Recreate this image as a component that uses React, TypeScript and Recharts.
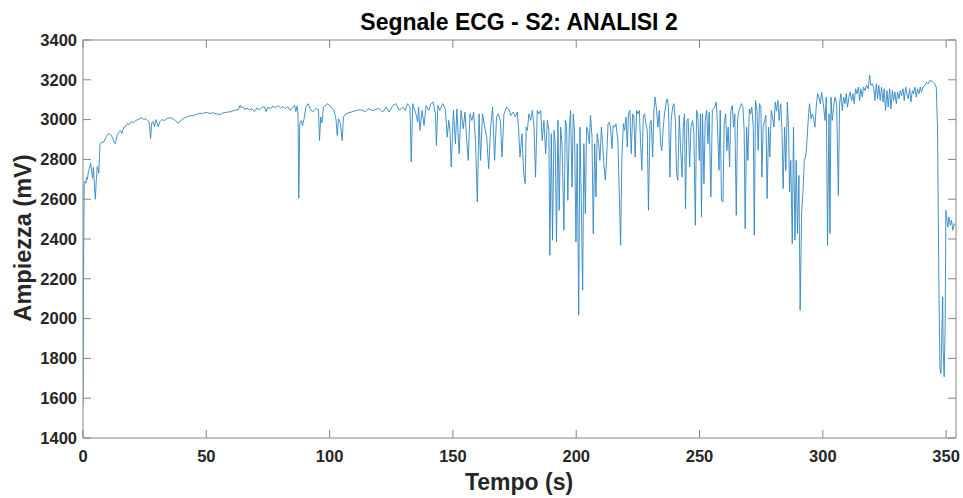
import { LineChart, Line, XAxis, YAxis } from "recharts";

const W = 963;
const H = 498;
const FONT = "'Liberation Sans', Arial, sans-serif";

const tickTempo = [0, 50, 100, 150, 200, 250, 300, 350];
const tickAmpiezza = [1400, 1600, 1800, 2000, 2200, 2400, 2600, 2800, 3000, 3200, 3400];

// [tempo (s), ampiezza (mV)]
const avvio: [number, number][] = [
  [0.0, 1560], [0.3, 2400], [0.5, 2680], [0.9, 2690], [1.2, 2680], [1.5, 2710], [1.8, 2700],
  [2.2, 2740], [2.6, 2755], [3.1, 2780], [3.5, 2740], [3.9, 2705], [4.2, 2760], [4.5, 2700],
  [5.0, 2600], [5.4, 2700], [5.8, 2765], [6.4, 2730], [6.9, 2880],
];

const stabile: [number, number][] = [
  [7.5, 2885], [8.5, 2890], [9.5, 2915], [10.3, 2930], [11.2, 2925], [12.0, 2910], [12.6, 2885],
  [13.2, 2880], [13.8, 2920], [14.5, 2935], [15.2, 2945], [15.8, 2930], [16.5, 2960], [17.3, 2965],
  [18.0, 2980], [18.8, 2975], [19.6, 2990], [20.5, 2985], [21.3, 2995], [22.2, 3000], [23.0, 3005],
  [23.8, 3010], [24.6, 3000], [25.4, 3005], [26.2, 2995], [26.8, 2990], [27.4, 2905], [27.9, 2985],
  [28.4, 2990], [29.0, 2965], [29.5, 3000], [30.0, 2985], [30.5, 2965], [31.2, 2990], [32.0, 3000],
  [33.0, 2995], [34.0, 3005], [35.3, 3010], [36.2, 3005], [37.0, 3000], [37.8, 2990], [38.7, 2982],
  [39.5, 2995], [40.3, 3000], [41.3, 3010], [42.5, 3015], [43.5, 3020], [44.5, 3018], [45.5, 3025],
  [46.5, 3028], [47.4, 3032], [48.5, 3030], [49.5, 3035], [50.5, 3035], [51.5, 3030], [52.5, 3035],
  [53.5, 3030], [54.5, 3028], [55.6, 3025], [56.5, 3032], [57.5, 3035], [58.8, 3038], [60.0, 3040],
  [61.0, 3045], [62.0, 3048], [63.0, 3050], [63.7, 3072], [64.2, 3060], [64.8, 3065], [65.6, 3050],
  [66.5, 3058], [67.5, 3048], [68.5, 3055], [69.5, 3040], [70.5, 3058], [71.5, 3048], [72.5, 3062],
  [73.6, 3065], [74.2, 3040], [75.0, 3063], [76.0, 3055], [77.0, 3068], [78.0, 3060], [79.2, 3070],
  [80.2, 3058], [81.0, 3066], [82.0, 3055], [83.0, 3064], [84.0, 3045], [85.0, 3062], [85.8, 3072],
  [86.3, 3040], [86.8, 3068], [87.2, 3030], [87.5, 2605], [87.9, 2980], [88.5, 2995], [89.0, 2970],
  [89.6, 3000], [90.4, 3063], [91.3, 3080], [92.2, 3050], [93.2, 3040], [94.5, 3055], [95.5, 3050],
  [95.9, 2895], [96.4, 3013], [96.9, 2985], [97.5, 3063], [99.3, 3080], [100.5, 3063], [101.8, 3046],
  [102.6, 3000], [103.1, 2920], [103.6, 3004], [104.3, 2987], [105.1, 2895], [105.6, 3013],
  [106.7, 3030], [108.8, 3038], [110.5, 3045], [112.5, 3050], [114.5, 3040], [115.6, 3055],
  [117.5, 3045], [119.6, 3055],
];

const primiBattiti: [number, number][] = [
  [120.2, 3054], [121.5, 3038], [122.9, 3063], [124.2, 3038], [125.6, 3071], [126.9, 3080],
  [128.3, 3046], [129.6, 3063], [130.7, 3046], [131.6, 3080], [132.6, 3063], [133.1, 2787],
  [133.7, 3080], [134.3, 3054], [135.0, 3029], [135.7, 2987], [136.1, 3063], [136.6, 2946],
  [137.5, 3046], [138.3, 2971], [139.1, 3071], [140.2, 3046], [141.1, 3080], [142.0, 3088],
  [142.9, 3029], [143.3, 2870], [143.9, 3071], [144.7, 3046], [145.8, 3080], [146.9, 3054],
  [147.7, 2912], [148.3, 2996], [148.8, 2946], [149.3, 2762], [150.2, 3046], [151.0, 2879],
  [151.6, 3054], [152.5, 2829], [153.3, 3046], [154.2, 2954], [154.9, 3038], [155.6, 2895],
  [156.2, 2795], [156.9, 3029], [157.7, 2996], [158.4, 3038], [159.2, 2879], [159.9, 2586],
  [160.6, 3029], [161.2, 2795], [162.0, 3029], [162.9, 2962], [163.7, 2912], [164.5, 2753],
  [165.3, 2962], [166.1, 3063], [166.9, 2795], [167.7, 3013], [168.5, 3029], [169.3, 2987],
  [169.9, 2812], [170.7, 3029], [171.8, 3063], [172.9, 3046], [173.5, 3021], [174.5, 3038],
  [175.3, 3013], [176.1, 3038], [176.6, 2962], [177.2, 2812], [178.0, 2929], [178.7, 2728],
  [179.3, 2678],
];

const aritmiaCentrale: [number, number][] = [
  [179.7, 2962], [180.2, 2946], [180.8, 3029], [181.5, 2996], [182.2, 3046], [182.9, 2962],
  [183.5, 2711], [184.2, 3046], [184.9, 3029], [185.6, 3046], [186.2, 2895], [186.9, 2996],
  [187.6, 2829], [188.3, 2996], [188.9, 2946], [189.3, 2318], [189.9, 2929], [190.4, 2394],
  [191.0, 2946], [191.5, 2879], [192.0, 2385], [192.6, 2996], [193.1, 2544], [193.7, 2962],
  [194.3, 2862], [195.0, 2444], [195.6, 2996], [196.1, 2962], [196.6, 2594], [197.2, 2962],
  [197.7, 3046], [198.3, 2661], [198.8, 3029], [199.3, 2946], [199.9, 2385], [200.4, 2879],
  [201.0, 2017], [201.5, 2962], [202.0, 2628], [202.6, 2143], [203.1, 2879], [203.7, 2527],
  [204.2, 2962], [204.7, 2946], [205.3, 2879], [205.8, 3021], [206.4, 2912], [206.9, 2427],
  [207.5, 2879], [208.0, 2611], [208.5, 2929], [209.1, 2879], [209.6, 2795], [210.2, 2962],
  [210.7, 2879], [211.2, 2778], [211.8, 2695], [212.3, 2795], [212.9, 2979], [213.4, 2987],
  [213.9, 2962], [214.5, 2854], [215.0, 2971], [215.6, 2962], [216.1, 2979], [216.9, 2895],
  [217.4, 2661], [218.0, 2369], [218.5, 2795], [219.1, 2979], [219.6, 2946], [220.2, 3013],
  [220.7, 2862], [221.2, 3029], [221.8, 3046], [222.3, 2829], [222.9, 3029], [223.4, 3013],
  [223.9, 2812], [224.5, 3046], [225.0, 3029], [225.6, 3046], [226.1, 2879], [226.6, 2745],
  [227.2, 3013], [227.7, 3029], [228.3, 2979], [228.8, 2946], [229.3, 2544], [229.9, 2979],
  [230.4, 2996], [231.0, 2812], [231.5, 3046], [232.0, 3113], [232.6, 3046], [233.1, 2962],
  [233.7, 3046], [234.2, 2879], [234.7, 2845], [235.3, 2962], [235.8, 3029], [236.4, 3080],
  [236.9, 3105], [237.4, 3063], [238.0, 2711], [238.5, 2996], [239.1, 3063],
];

const aritmiaFinale: [number, number][] = [
  [239.6, 3080], [240.2, 2996], [240.7, 2728], [241.2, 2695], [241.8, 3021], [242.3, 2862],
  [242.9, 2711], [243.4, 2962], [243.9, 3029], [244.3, 2553], [244.9, 2996], [245.4, 3004],
  [246.0, 2762], [246.5, 2962], [247.2, 2996], [247.7, 2929], [248.3, 2469], [248.8, 3046],
  [249.3, 3029], [249.9, 2795], [250.4, 3029], [250.8, 2511], [251.2, 3029], [251.8, 2678],
  [252.3, 2996], [252.9, 3046], [253.4, 2879], [253.9, 3038], [254.6, 2611], [255.2, 3046],
  [255.7, 3054], [256.2, 3063], [256.8, 3088], [257.3, 2962], [257.9, 2745], [258.4, 3046],
  [258.9, 2594], [259.5, 2586], [260.0, 2979], [260.6, 3029], [261.1, 2845], [261.6, 2962],
  [262.2, 2762], [262.7, 3046], [263.3, 3071], [263.8, 2962], [264.3, 3029], [264.9, 2519],
  [265.4, 2996], [266.0, 3046], [266.5, 3063], [267.0, 3080], [267.6, 3063], [268.1, 2946],
  [268.5, 2452], [269.1, 2962], [269.6, 2795], [270.2, 3054], [270.7, 3029], [271.2, 3063],
  [271.8, 2962], [272.2, 2419], [272.7, 3096], [273.3, 3046], [273.8, 2845], [274.3, 3080],
  [274.9, 3063], [275.3, 2711], [275.8, 2962], [276.4, 2996], [276.9, 3021], [277.4, 2603],
  [278.0, 2962], [278.5, 2812], [279.1, 3046], [279.6, 3013], [280.2, 2962], [280.7, 3088],
  [281.2, 3046], [281.8, 3096], [282.3, 2996], [282.9, 3080], [283.4, 2962], [283.9, 2653],
  [284.5, 2962], [285.0, 2745], [285.6, 3088], [286.1, 2962], [286.5, 2636], [287.0, 2795],
  [287.6, 2377], [288.1, 2962], [288.7, 2394], [289.2, 2795], [289.7, 2427], [290.3, 2720],
  [290.8, 2042], [291.4, 2527], [291.9, 2628], [292.5, 2795], [293.0, 2812], [293.5, 2879],
  [294.1, 3004], [294.6, 3080], [295.2, 3004], [295.7, 3029], [296.2, 3013], [296.8, 2962],
  [297.3, 3063], [297.9, 3130], [298.4, 3113], [299.0, 3080],
];

const recupero: [number, number][] = [
  [299.5, 3138], [300.2, 3080], [300.9, 2996], [301.4, 3113], [301.9, 2368], [302.5, 3029],
  [302.9, 2427], [303.3, 3113], [303.8, 2996], [304.4, 3063], [304.9, 3113], [305.6, 3080],
  [306.3, 2619], [306.8, 3080], [307.3, 3130], [307.9, 3046], [308.4, 3113], [309.0, 3080],
  [309.5, 3130], [310.0, 3063], [310.6, 3113], [311.1, 3138], [311.7, 3096], [312.2, 3130],
  [312.7, 3080], [313.3, 3155], [313.8, 3130], [314.4, 3163], [314.9, 3096], [315.4, 3155],
  [316.0, 3113], [316.5, 3163], [317.1, 3146], [317.7, 3172], [318.4, 3155], [319.0, 3222],
  [319.5, 3172], [320.0, 3180], [320.6, 3163], [321.1, 3096], [321.7, 3180], [322.2, 3105],
  [322.7, 3172], [323.3, 3096], [323.8, 3163], [324.4, 3088], [324.9, 3155], [325.4, 3046],
  [326.0, 3146], [326.5, 3063], [327.1, 3155], [327.6, 3054], [328.2, 3146], [328.7, 3096],
  [329.2, 3138], [329.8, 3080], [330.3, 3138], [330.9, 3105], [331.4, 3146], [331.9, 3121],
  [332.5, 3155], [333.0, 3096], [333.6, 3163], [334.1, 3130], [334.6, 3105], [335.2, 3155],
  [335.7, 3088], [336.3, 3146], [336.8, 3130], [337.3, 3163], [337.9, 3113], [338.4, 3155],
  [339.0, 3130], [339.5, 3163], [340.0, 3138], [340.6, 3163], [341.4, 3172], [342.1, 3188],
  [342.7, 3180], [343.4, 3197], [344.1, 3193], [344.8, 3188], [345.4, 3180], [346.0, 3163],
];

const crollo: [number, number][] = [
  [346.5, 2962], [347.1, 2126], [347.5, 1750], [347.9, 1724], [348.3, 1959], [348.6, 2109],
  [348.8, 1841], [349.2, 1708], [349.6, 1959], [349.9, 2544], [350.3, 2494], [350.7, 2460],
  [351.1, 2511], [351.7, 2469], [352.2, 2494], [352.7, 2444], [353.3, 2477], [353.8, 2469],
];

const data = [...avvio, ...stabile, ...primiBattiti, ...aritmiaCentrale, ...aritmiaFinale, ...recupero, ...crollo].map(
  ([t, v]) => ({ t, v })
);

const tickStyle = { fill: "#262626", fontSize: 16.5, fontWeight: 700, fontFamily: FONT };
const axisColor = "#858585";
const noLabel = () => "";

export default function App() {
  return (
    <div style={{ position: "fixed", left: 0, top: 0, width: W, height: H, background: "#fff" }}>
      <LineChart width={W} height={H} data={data} margin={{ top: 40, right: 7, bottom: 30, left: 0 }}>
        {/* label axes */}
        <XAxis
          type="number"
          dataKey="t"
          domain={[0, 354]}
          ticks={tickTempo}
          allowDataOverflow
          height={30}
          tickLine={false}
          tickSize={0}
          tickMargin={12}
          axisLine={false}
          tick={tickStyle}
        />
        <YAxis
          type="number"
          domain={[1400, 3400]}
          ticks={tickAmpiezza}
          allowDataOverflow
          width={83}
          tickLine={false}
          tickSize={0}
          tickMargin={6}
          axisLine={false}
          tick={tickStyle}
        />
        {/* box with inward ticks */}
        <XAxis
          xAxisId="basso"
          orientation="bottom"
          mirror
          type="number"
          dataKey="t"
          domain={[0, 354]}
          ticks={tickTempo}
          allowDataOverflow
          height={10}
          tickSize={8}
          stroke={axisColor}
          tickFormatter={noLabel}
        />
        <XAxis
          xAxisId="alto"
          orientation="top"
          mirror
          type="number"
          dataKey="t"
          domain={[0, 354]}
          ticks={tickTempo}
          allowDataOverflow
          height={10}
          tickSize={8}
          stroke={axisColor}
          tickFormatter={noLabel}
        />
        <YAxis
          yAxisId="sinistra"
          orientation="left"
          mirror
          type="number"
          domain={[1400, 3400]}
          ticks={tickAmpiezza}
          allowDataOverflow
          width={10}
          tickSize={8}
          stroke={axisColor}
          tickFormatter={noLabel}
        />
        <YAxis
          yAxisId="destra"
          orientation="right"
          mirror
          type="number"
          domain={[1400, 3400]}
          ticks={tickAmpiezza}
          allowDataOverflow
          width={10}
          tickSize={8}
          stroke={axisColor}
          tickFormatter={noLabel}
        />
        <Line
          type="linear"
          dataKey="v"
          stroke="#2f86c4"
          strokeWidth={0.9}
          dot={false}
          activeDot={false}
          isAnimationActive={false}
        />
      </LineChart>
      <svg
        width={W}
        height={H}
        style={{ position: "absolute", left: 0, top: 0, pointerEvents: "none" }}
        fontFamily={FONT}
        fontWeight={700}
      >
        <text x={519} y={30} textAnchor="middle" fontSize={23} fill="#000">
          Segnale ECG - S2: ANALISI 2
        </text>
        <text x={519} y={490} textAnchor="middle" fontSize={23} fill="#262626">
          Tempo (s)
        </text>
        <text transform="translate(31,238) rotate(-90)" textAnchor="middle" fontSize={23.5} fill="#262626">
          Ampiezza (mV)
        </text>
      </svg>
    </div>
  );
}
